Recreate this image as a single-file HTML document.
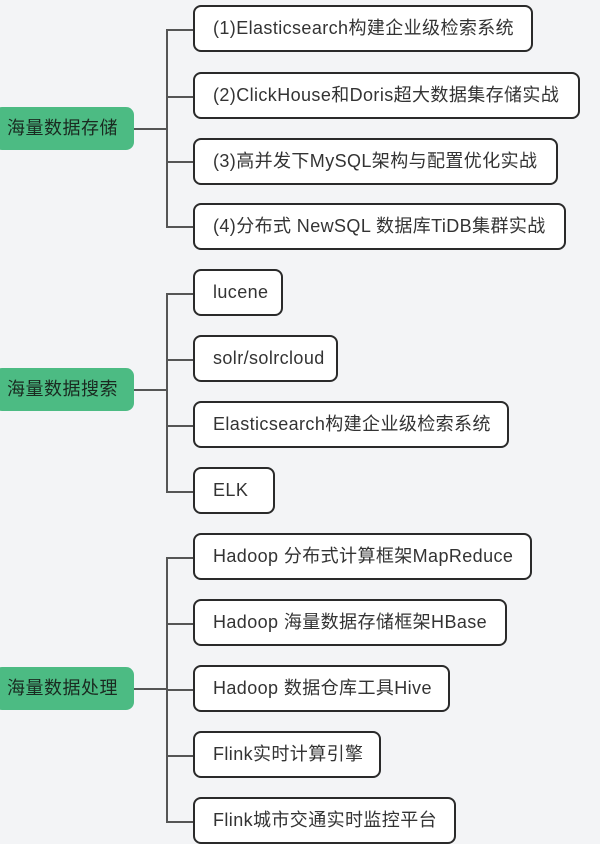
<!DOCTYPE html>
<html><head><meta charset="utf-8"><style>
body{margin:0;width:600px;height:832px;background:#f3f4f6;position:relative;overflow:hidden;font-family:"Liberation Sans","Noto Sans CJK SC",sans-serif;}
.g{position:absolute;left:-6px;width:140px;height:43px;background:#4cbb83;border-radius:8px;color:#1a2a20;font-size:18px;line-height:43px;padding-left:13px;box-sizing:border-box;letter-spacing:0.5px}
.b{position:absolute;left:193px;height:47px;border:2px solid #2a2a2a;border-radius:8px;background:#fff;box-sizing:border-box;font-size:18px;letter-spacing:0.4px;line-height:43px;padding-left:18px;color:#333;white-space:nowrap;overflow:hidden}
.h{position:absolute;height:1.5px;background:#555}
.v{position:absolute;width:1.5px;background:#555}
</style></head><body>
<div class="g" style="top:107px">海量数据存储</div>
<div class="h" style="left:134px;top:128px;width:32px"></div>
<div class="v" style="left:166px;top:29px;height:198px"></div>
<div class="h" style="left:166px;top:29px;width:27px"></div>
<div class="h" style="left:166px;top:96px;width:27px"></div>
<div class="h" style="left:166px;top:161px;width:27px"></div>
<div class="h" style="left:166px;top:226px;width:27px"></div>
<div class="b" style="top:5px;width:340px">(1)Elasticsearch构建企业级检索系统</div>
<div class="b" style="top:72px;width:387px">(2)ClickHouse和Doris超大数据集存储实战</div>
<div class="b" style="top:138px;width:365px">(3)高并发下MySQL架构与配置优化实战</div>
<div class="b" style="top:203px;width:373px">(4)分布式 NewSQL 数据库TiDB集群实战</div>

<div class="g" style="top:368px">海量数据搜索</div>
<div class="h" style="left:134px;top:389px;width:32px"></div>
<div class="v" style="left:166px;top:293px;height:198px"></div>
<div class="h" style="left:166px;top:293px;width:27px"></div>
<div class="h" style="left:166px;top:359px;width:27px"></div>
<div class="h" style="left:166px;top:425px;width:27px"></div>
<div class="h" style="left:166px;top:491px;width:27px"></div>
<div class="b" style="top:269px;width:90px">lucene</div>
<div class="b" style="top:335px;width:145px">solr/solrcloud</div>
<div class="b" style="top:401px;width:316px">Elasticsearch构建企业级检索系统</div>
<div class="b" style="top:467px;width:82px">ELK</div>

<div class="g" style="top:667px">海量数据处理</div>
<div class="h" style="left:134px;top:688px;width:32px"></div>
<div class="v" style="left:166px;top:557px;height:265px"></div>
<div class="h" style="left:166px;top:557px;width:27px"></div>
<div class="h" style="left:166px;top:623px;width:27px"></div>
<div class="h" style="left:166px;top:689px;width:27px"></div>
<div class="h" style="left:166px;top:755px;width:27px"></div>
<div class="h" style="left:166px;top:821px;width:27px"></div>
<div class="b" style="top:533px;width:339px">Hadoop 分布式计算框架MapReduce</div>
<div class="b" style="top:599px;width:314px">Hadoop 海量数据存储框架HBase</div>
<div class="b" style="top:665px;width:257px">Hadoop 数据仓库工具Hive</div>
<div class="b" style="top:731px;width:188px">Flink实时计算引擎</div>
<div class="b" style="top:797px;width:263px">Flink城市交通实时监控平台</div>
</body></html>
